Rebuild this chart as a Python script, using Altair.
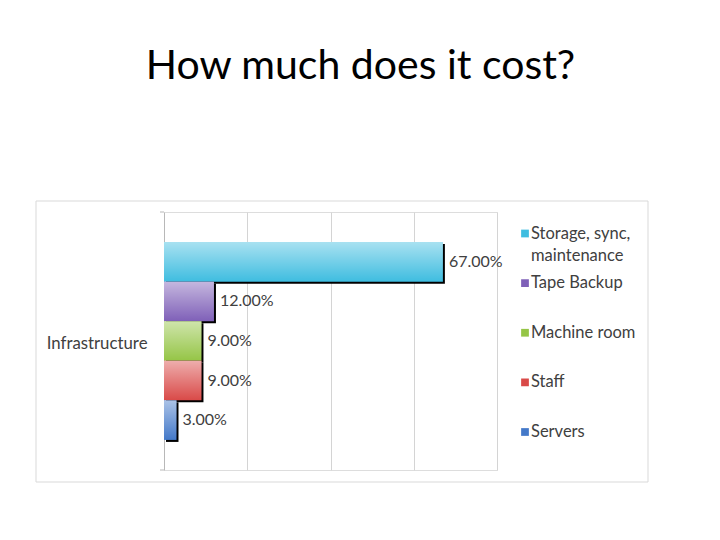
import altair as alt
import pandas as pd

# ---- data ----
categories = ["Storage, sync, maintenance", "Tape Backup", "Machine room", "Staff", "Servers"]
values = [67, 12, 9, 9, 3]
colors = ["#3fbde0", "#7f60b8", "#95c546", "#d94a48", "#4479c9"]
group_label = "Infrastructure"
grid_values = [20, 40, 60, 80]
title_text = "How much does it cost?"

FONT = "Lato"
TXT = "#404040"

df = pd.DataFrame({"cost": categories, "share": values})
one = pd.DataFrame({"k": [0]})

y_axis = alt.Axis(
    title=group_label, titleAngle=0, titleAlign="right", titleBaseline="middle",
    titleX=-17, titleY=131, titleFont=FONT, titleFontSize=16.8, titleFontWeight="normal",
    titleColor=TXT, labels=False, ticks=False, domainColor="#b8b8b8", grid=False,
)
y_scale = alt.Scale(paddingInner=0, paddingOuter=0.76)
y_enc = alt.Y("cost:N", sort=categories, scale=y_scale, axis=y_axis)
x_enc = alt.X(
    "share:Q",
    scale=alt.Scale(domain=[0, 80]),
    axis=alt.Axis(values=grid_values, labels=False, ticks=False, domain=False,
                  title=None, gridColor="#d4d4d4"),
)
color_enc = alt.Color("cost:N", sort=categories,
                      scale=alt.Scale(domain=categories, range=colors), legend=None)

frame = alt.Chart(one).mark_rect(fill="white", fillOpacity=0, stroke="#d9d9d9", strokeWidth=1).encode(
    x=alt.value(-128), x2=alt.value(484), y=alt.value(-11), y2=alt.value(270)
)
tick_top = alt.Chart(one).mark_rule(color="#b8b8b8").encode(
    x=alt.value(-4), x2=alt.value(0), y=alt.value(0)
)
tick_bot = alt.Chart(one).mark_rule(color="#b8b8b8").encode(
    x=alt.value(-4), x2=alt.value(0), y=alt.value(258)
)

base = alt.Chart(df)

shadow = base.mark_bar(color="black", xOffset=2, yOffset=2).encode(x=x_enc, y=y_enc)
bars = base.mark_bar().encode(x=x_enc, y=y_enc, color=color_enc)
sheen = base.mark_bar(
    color=alt.Gradient(
        gradient="linear",
        stops=[
            alt.GradientStop(color="rgba(255,255,255,0.55)", offset=0),
            alt.GradientStop(color="rgba(255,255,255,0)", offset=1),
        ],
        x1=0, x2=0, y1=0, y2=1,
    )
).encode(x=x_enc, y=y_enc)
labels = base.transform_calculate(pct="datum.share / 100").mark_text(
    align="left", baseline="middle", dx=6, font=FONT, fontSize=16, color=TXT
).encode(x=x_enc, y=y_enc, text=alt.Text("pct:Q", format=".2%"))

plot = alt.layer(frame, tick_top, tick_bot, shadow, bars, sheen, labels)

# hand-built legend (one row per category on its own point scale)
leg_y = alt.Y("cost:N", sort=categories,
              scale=alt.Scale(type="point", range=[21.5, 220], padding=0), axis=None)
leg_sym = base.mark_square(size=60, opacity=1).encode(
    x=alt.value(361), y=leg_y, color=color_enc
)
leg_txt = base.transform_calculate(
    lbl="replace(datum.cost, ', m', ',\\nm')"
).mark_text(
    align="left", baseline="middle", font=FONT, fontSize=16.5, color=TXT,
    lineBreak="\n", lineHeight=22,
).encode(x=alt.value(367), y=leg_y, text="lbl:N")
legend = alt.layer(leg_sym, leg_txt)

chart = alt.layer(plot, legend).resolve_scale(y="independent").properties(
    width=333,
    height=258,
    title=alt.Title(
        title_text, font=FONT, fontSize=41, fontWeight="normal", color="black",
        anchor="middle", frame="group", dx=30, offset=113,
    ),
    autosize=alt.AutoSizeParams(type="none"),
    padding={"left": 156, "top": 204, "right": 215, "bottom": 70},
).configure_view(stroke=None).configure(background="white")

chart.save("out.html", embed_options={"renderer": "svg", "actions": False})
